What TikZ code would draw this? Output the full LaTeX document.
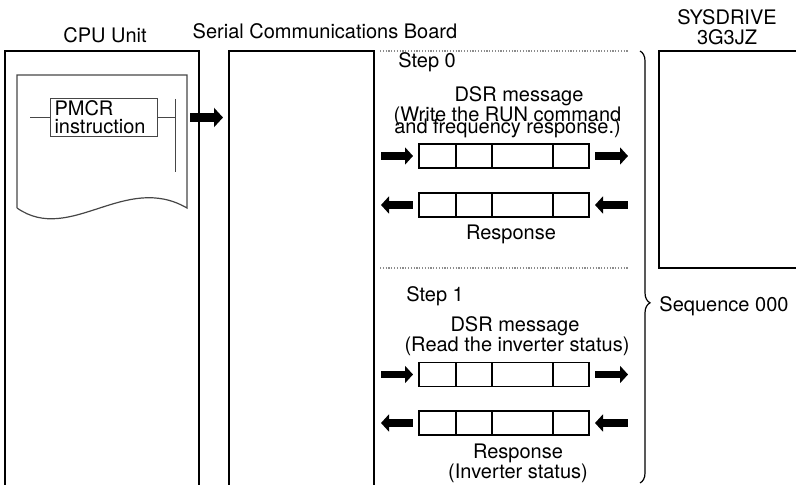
\documentclass[tikz,border=0pt]{standalone}
\usepackage{fontspec}
\setmainfont{TeX Gyre Heros}
\usetikzlibrary{arrows.meta,calc,decorations.pathreplacing}
\definecolor{dotc}{RGB}{140,140,140}
\definecolor{papc}{RGB}{70,70,70}

\begin{document}
\begin{tikzpicture}[x=0.5pt, y=-0.5pt,
  every node/.style={font=\fontsize{10}{10}\selectfont},
  unit/.style={draw, line width=0.8pt, anchor=north west, outer sep=0pt, inner sep=0pt, minimum height=240pt},
  frame/.style={draw, line width=0.6pt, outer sep=0pt, inner sep=0pt, minimum width=85pt, minimum height=12pt},
  txt/.style={anchor=base, inner sep=0pt},
  twoline/.style={align=center, inner sep=0pt},
  bigarr/.style={line width=4.5pt, -{Triangle[length=4.5pt, width=9.5pt]}},
  fwd/.style={line width=3.8pt, -{Triangle[length=4pt, width=8.5pt]}},
  bwd/.style={line width=3.8pt, {Triangle[length=4pt, width=8.5pt]}-},
  sep/.style={dotc, line width=0.6pt, dash pattern=on 0.6pt off 0.8pt}]
  \useasboundingbox (0,0) rectangle (796,485);
  \clip (0,0) rectangle (796,485);
  \node[unit, minimum width=97pt] (cpu) at (5,51) {};
  \node[unit, minimum width=72.5pt] (board) at (229,51) {};
  \node[unit, minimum width=75pt, minimum height=108.5pt] (drive) at (659,51) {};
  \node[txt] (cputitle) at (105,43) {CPU Unit};
  \node[txt] (boardtitle) at (325,39) {Serial Communications Board};
  \node[twoline] (drivetitle) at (727,27) {SYSDRIVE\\3G3JZ};
  \draw[papc, line width=0.6pt] (17,208) -- (17,75) -- (187,75) -- (187,208) .. controls (125,172) and (70,245) .. (17,208);
  \node[draw, papc, text=black, line width=0.5pt, align=left, text width=49pt, inner xsep=2.25pt, inner ysep=1pt, minimum height=18.5pt] (pmcr) at (103.5,117.5) {PMCR\\[-1pt]instruction};
  \coordinate (rungL) at (30,117.5);
  \coordinate (railT) at (175,99);
  \coordinate (railB) at (175,172);
  \draw[papc, line width=0.5pt] (rungL) -- (pmcr.west) (pmcr.east) -- (pmcr.east -| railT) (railT) -- (railB);
  \draw[bigarr, shorten <=-4.5pt, shorten >=3pt] (cpu.east |- pmcr.east) -- (board.west |- pmcr.east);
  \draw[sep] (380,51) -- (629,51);
  \draw[sep] (380,268) -- (629,268);
  \node[txt, anchor=base west] (step0) at (398,68) {Step 0};
  \node[txt] (dsr0) at (519,102) {DSR message};
  \node[twoline] (write0) at (507.5,122.6) {(Write the RUN command\\[-4pt]and frequency response.)};
  \node[txt] (resp0) at (511,240) {Response};
  \node[txt, anchor=base west] (step1) at (406,302) {Step 1};
  \node[txt] (dsr1) at (515,332) {DSR message};
  \node[txt] (read1) at (517,352) {(Read the inverter status)};
  \node[twoline] (resp1) at (518,463) {Response\\(Inverter status)};
  \foreach \i/\y/\dir in {0/156/fwd, 1/205/bwd, 2/374.5/fwd, 3/423/bwd} {
    \node[frame] (pk\i) at (504,\y) {};
    \foreach \d in {37,73,134} \draw[line width=0.6pt] ($(pk\i.north west)+(\d,0)$) -- ($(pk\i.south west)+(\d,0)$);
    \coordinate (in\i) at ($(pk\i.west)+(-38,0)$);
    \coordinate (out\i) at ($(pk\i.east)+(39,0)$);
    \draw[\dir, shorten >=3pt] (in\i) -- (pk\i);
    \draw[\dir, shorten <=3pt] (pk\i) -- (out\i);
  }
  \draw[line width=0.6pt, decorate, decoration={brace, amplitude=5pt, aspect=0.583}] (640,51) -- (640,483);
  \node[txt, anchor=base west] (seq) at (659,312) {Sequence 000};
\end{tikzpicture}
\end{document}
